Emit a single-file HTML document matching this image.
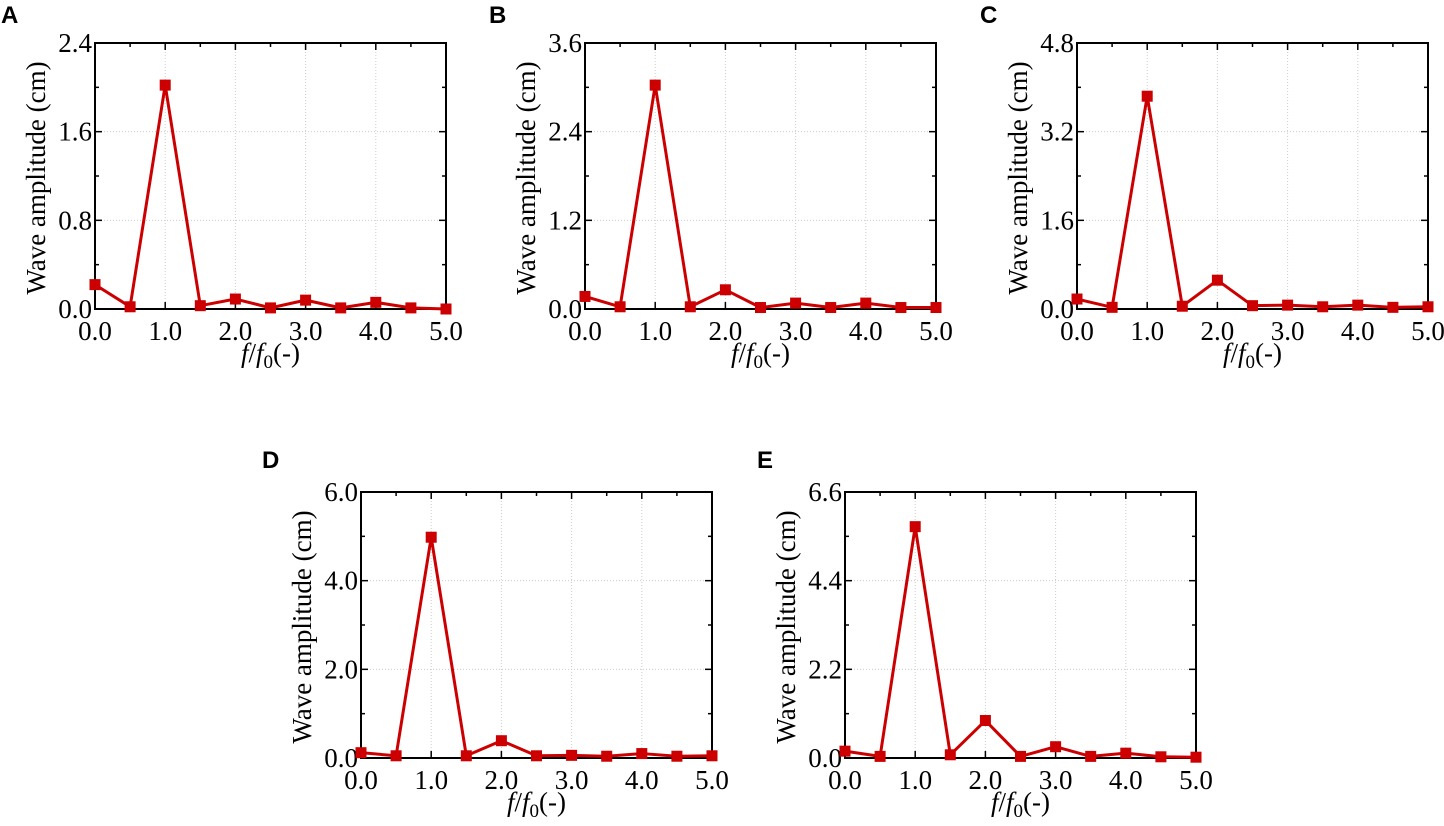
<!DOCTYPE html>
<html><head><meta charset="utf-8"><style>
body{margin:0;background:#fff;}
svg text{font-family:"Liberation Serif",serif;}
</style></head><body>
<svg id="fig" width="1444" height="821" xmlns="http://www.w3.org/2000/svg"></svg>
<script>
const xCategories=[0,0.5,1,1.5,2,2.5,3,3.5,4,4.5,5];
const xTicks=["0.0","1.0","2.0","3.0","4.0","5.0"];
const seriesA=[0.22,0.02,2.02,0.03,0.09,0.01,0.08,0.01,0.06,0.01,0.0];
const seriesB=[0.17,0.03,3.03,0.03,0.26,0.02,0.08,0.02,0.08,0.02,0.02];
const seriesC=[0.18,0.03,3.84,0.05,0.52,0.06,0.07,0.04,0.07,0.03,0.04];
const seriesD=[0.12,0.05,4.98,0.05,0.39,0.05,0.06,0.04,0.1,0.04,0.05];
const seriesE=[0.17,0.04,5.74,0.08,0.93,0.04,0.28,0.04,0.12,0.03,0.02];
const yTicksA=["0.0","0.8","1.6","2.4"];
const yTicksB=["0.0","1.2","2.4","3.6"];
const yTicksC=["0.0","1.6","3.2","4.8"];
const yTicksD=["0.0","2.0","4.0","6.0"];
const yTicksE=["0.0","2.2","4.4","6.6"];

const NS="http://www.w3.org/2000/svg";
const svg=document.getElementById('fig');
function mk(tag,attrs,parent){const e=document.createElementNS(NS,tag);for(const k in attrs)e.setAttribute(k,attrs[k]);(parent||svg).appendChild(e);return e;}

const panels=[
 {id:'a',letter:'A',lx:1,ly:23,x0:95,y0:43,data:seriesA,yt:yTicksA},
 {id:'b',letter:'B',lx:489,ly:23,x0:585,y0:43,data:seriesB,yt:yTicksB},
 {id:'c',letter:'C',lx:980,ly:23,x0:1077,y0:43,data:seriesC,yt:yTicksC},
 {id:'d',letter:'D',lx:262,ly:468,x0:361,y0:492,data:seriesD,yt:yTicksD},
 {id:'e',letter:'E',lx:757,ly:468,x0:845,y0:492,data:seriesE,yt:yTicksE},
];
const W=351,H=266;
panels.forEach(p=>{
 const g=mk('g',{});
 
 
 const ymax=parseFloat(p.yt[p.yt.length-1]);
 const xs=v=>p.x0+v/5*W;
 const ys=v=>p.y0+H-v/ymax*H;
 const lab=mk('text',{x:p.lx,y:p.ly,'font-size':24,'font-weight':'bold',style:'font-family:"Liberation Sans",sans-serif'},g);
 lab.textContent=p.letter;
 
 
 for(let i=1;i<5;i++){const l=mk('line',{x1:xs(i),x2:xs(i),y1:p.y0,y2:p.y0+H,stroke:'#ccc','stroke-width':1,'stroke-dasharray':'1,2'},g);
  }
 for(let i=1;i<p.yt.length-1;i++){const v=parseFloat(p.yt[i]);const l=mk('line',{x1:p.x0,x2:p.x0+W,y1:ys(v),y2:ys(v),stroke:'#ccc','stroke-width':1,'stroke-dasharray':'1,2'},g);
  }
 for(let i=0;i<=10;i++){const v=i*0.5;const len=i%2?4:7;
  mk('line',{x1:xs(v),x2:xs(v),y1:p.y0+H,y2:p.y0+H-len,stroke:'#000','stroke-width':1.5},g);
  mk('line',{x1:xs(v),x2:xs(v),y1:p.y0,y2:p.y0+len,stroke:'#000','stroke-width':1.5},g);}
 for(let i=0;i<=6;i++){const v=i*ymax/6;const len=i%2?4:7;
  mk('line',{x1:p.x0,x2:p.x0+len,y1:ys(v),y2:ys(v),stroke:'#000','stroke-width':1.5},g);
  mk('line',{x1:p.x0+W,x2:p.x0+W-len,y1:ys(v),y2:ys(v),stroke:'#000','stroke-width':1.5},g);}
 const fr=mk('rect',{x:p.x0,y:p.y0,width:W,height:H,fill:'none',stroke:'#000','stroke-width':2},g);
 
 xTicks.forEach((t,i)=>{const e=mk('text',{x:xs(parseFloat(t)),y:p.y0+H+31,'font-size':27,'text-anchor':'middle'},g);e.textContent=t;
  });
 p.yt.forEach(t=>{const e=mk('text',{x:p.x0-3,y:ys(parseFloat(t))+9,'font-size':27,'text-anchor':'end'},g);e.textContent=t;
  });
 const xt=mk('text',{x:p.x0+W/2,y:p.y0+H+53,'font-size':27,'text-anchor':'middle'},g);
 xt.innerHTML='<tspan font-style="italic">f</tspan>/<tspan font-style="italic">f</tspan><tspan font-size="19" dy="6">0</tspan><tspan dy="-6">(-)</tspan>';
 
 const yt=mk('text',{x:0,y:0,'font-size':27,'text-anchor':'middle',transform:`translate(${p.x0-50},${p.y0+H/2+2}) rotate(-90)`},g);
 yt.textContent='Wave amplitude (cm)';
 
 const pts=p.data.map((v,i)=>xs(xCategories[i])+','+ys(v)).join(' ');
 const line=mk('polyline',{points:pts,fill:'none',stroke:'#cc0000','stroke-width':3,'stroke-linejoin':'round'},g);
 
 p.data.forEach((v,i)=>{const m=mk('rect',{x:xs(xCategories[i])-5.5,y:ys(v)-5.5,width:11,height:11,fill:'#cc0000'},g);
  });
});
</script>
</body></html>
